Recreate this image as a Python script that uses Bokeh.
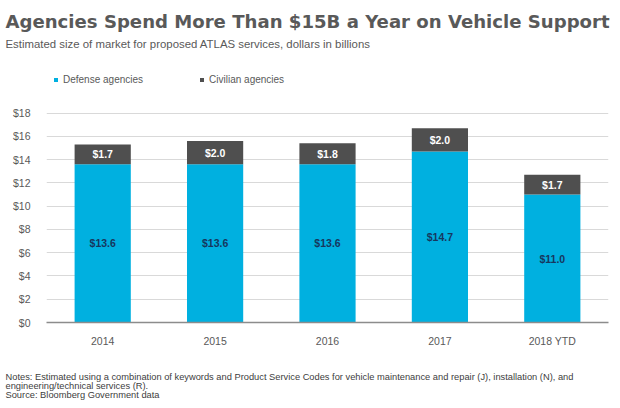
from bokeh.plotting import figure
from bokeh.layouts import column
from bokeh.models import (ColumnDataSource, FactorRange, Range1d, LabelSet, Label,
                          Legend, LegendItem, NumeralTickFormatter, FixedTicker)
from bokeh.core.properties import value
from bokeh.embed import file_html
from bokeh.resources import INLINE

years = ["2014", "2015", "2016", "2017", "2018 YTD"]
defense = [13.6, 13.6, 13.6, 14.7, 11.0]
civilian = [1.7, 2.0, 1.8, 2.0, 1.7]
y_ticks = [0, 2, 4, 6, 8, 10, 12, 14, 16, 18]

title_text = "Agencies Spend More Than $15B a Year on Vehicle Support"
subtitle_text = "Estimated size of market for proposed ATLAS services, dollars in billions"
notes_lines = [
    "Notes: Estimated using a combination of keywords and Product Service Codes for vehicle maintenance and repair (J), installation (N), and",
    "engineering/technical services (R).",
    "Source: Bloomberg Government data",
]

CYAN = "#00B0E0"
DARK = "#4F4F4F"
GRAY = "#595959"
FONT = "Liberation Sans"

W = 620
HEAD_H, MAIN_H, FOOT_H = 60, 290, 58


def blank(h):
    f = figure(width=W, height=h, output_backend="svg", toolbar_location=None,
               x_range=Range1d(0, W), y_range=Range1d(0, h),
               x_axis_location=None, y_axis_location=None,
               min_border=0, min_border_left=0, min_border_right=0,
               min_border_top=0, min_border_bottom=0, frame_align=False)
    f.outline_line_color = None
    f.xgrid.visible = False
    f.ygrid.visible = False
    return f


# header
head = blank(HEAD_H)
head.add_layout(Label(x=5, y=HEAD_H - 21, x_units="screen", y_units="screen", text=title_text,
                      text_font="DejaVu Sans", text_font_size="18.1px", text_font_style="bold",
                      text_color="#595959", text_baseline="alphabetic"))
head.add_layout(Label(x=5, y=HEAD_H - 43, x_units="screen", y_units="screen", text=subtitle_text,
                      text_font=FONT, text_font_size="11.4px",
                      text_color=GRAY, text_baseline="alphabetic"))

# main chart
src = ColumnDataSource(dict(
    year=years,
    defense=defense,
    civilian=civilian,
    top=[d + c for d, c in zip(defense, civilian)],
    dmid=[d / 2 for d in defense],
    cmid=[d + c / 2 for d, c in zip(defense, civilian)],
    dlab=["$%.1f" % d for d in defense],
    clab=["$%.1f" % c for c in civilian],
))

p = figure(width=W, height=MAIN_H, output_backend="svg", toolbar_location=None,
           x_range=FactorRange(*years, range_padding=0), y_range=Range1d(0, 22.0),
           min_border_left=46, min_border_right=12, min_border_top=6, min_border_bottom=28,
           frame_align=False)
p.outline_line_color = None

r1 = p.vbar(x="year", top="defense", bottom=0, width=0.5, source=src,
            fill_color=CYAN, line_color=None)
r2 = p.vbar(x="year", top="top", bottom="defense", width=0.5, source=src,
            fill_color=DARK, line_color=None)

p.add_layout(LabelSet(x="year", y="dmid", text="dlab", source=src, text_align="center",
                      text_baseline="middle", text_font=value(FONT), text_font_size="10.5px",
                      text_font_style="bold", text_color="#17375E"))
p.add_layout(LabelSet(x="year", y="cmid", text="clab", source=src, text_align="center",
                      text_baseline="middle", text_font=value(FONT), text_font_size="10.5px",
                      text_font_style="bold", text_color="white"))

p.yaxis.ticker = FixedTicker(ticks=y_ticks)
p.yaxis.formatter = NumeralTickFormatter(format="$0")
p.yaxis.axis_line_color = None
p.yaxis.major_tick_line_color = None
p.yaxis.minor_tick_line_color = None
p.yaxis.major_label_standoff = 10
p.yaxis.major_label_text_font = FONT
p.yaxis.major_label_text_font_size = "10.5px"
p.yaxis.major_label_text_color = GRAY

p.xaxis.axis_line_color = "#8C8C8C"
p.xaxis.axis_line_width = 1.5
p.xaxis.major_tick_line_color = None
p.xaxis.minor_tick_line_color = None
p.xaxis.major_label_standoff = 6
p.xaxis.major_label_text_font = FONT
p.xaxis.major_label_text_font_size = "10.5px"
p.xaxis.major_label_text_color = GRAY

p.xgrid.grid_line_color = None
p.ygrid.grid_line_color = "#D9D9D9"
p.ygrid.ticker = FixedTicker(ticks=y_ticks)

legend = Legend(items=[LegendItem(label="Defense agencies", renderers=[r1]),
                       LegendItem(label="Civilian agencies", renderers=[r2])],
                orientation="horizontal", location=(7, 237),
                glyph_width=5, glyph_height=5, label_standoff=5, spacing=56,
                padding=0, margin=0, border_line_color=None, background_fill_alpha=0,
                label_text_font=FONT, label_text_font_size="10px",
                label_text_color=GRAY, label_height=12, label_text_baseline="middle")
p.add_layout(legend, "center")

# footer
foot = blank(FOOT_H)
for i, (line, yb) in enumerate(zip(notes_lines, [32, 23, 14])):
    foot.add_layout(Label(x=5, y=yb, x_units="screen", y_units="screen",
                          text=line, text_font=FONT, text_font_size="9.3px",
                          text_color="#404040", text_baseline="alphabetic"))

layout = column(head, p, foot, spacing=0)
open("out.html", "w").write(file_html(layout, INLINE))
